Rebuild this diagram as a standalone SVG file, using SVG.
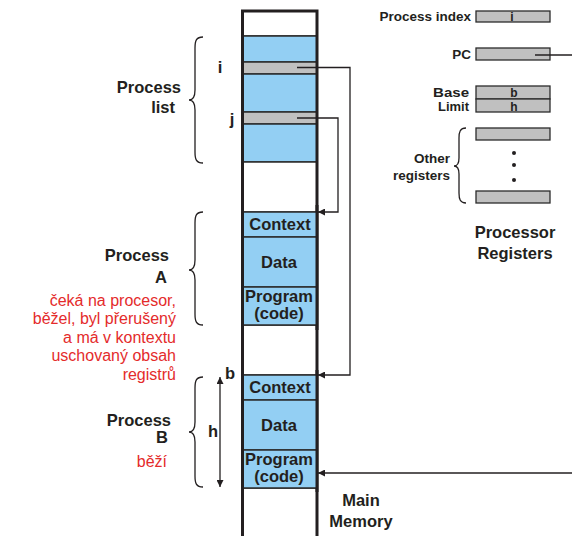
<svg xmlns="http://www.w3.org/2000/svg" width="572" height="536" viewBox="0 0 572 536">
  <defs>
    <style>
      text { font-family: "Liberation Sans", Arial, sans-serif; fill: #231f20; }
      .b { font-weight: bold; font-size: 16.5px; }
      .r { font-weight: bold; font-size: 13.5px; }
      .s { font-weight: bold; font-size: 12px; }
      .red { font-size: 16px; fill: #e42b2b; }
      .seg { fill: #93cff3; stroke: #2b2b2b; stroke-width: 1.5; }
      .emp { fill: #ffffff; stroke: #2b2b2b; stroke-width: 1.5; }
      .gry { fill: #c0c0c0; stroke: #2b2b2b; stroke-width: 1.5; }
      .reg { fill: #c0c0c0; stroke: #2b2b2b; stroke-width: 1.3; }
      .brace { fill: none; stroke: #231f20; stroke-width: 1.3; }
      .wire { fill: none; stroke: #231f20; stroke-width: 1.3; }
    </style>
    <marker id="ah" viewBox="0 0 10 10" refX="10" refY="5" markerWidth="7" markerHeight="7" orient="auto-start-reverse" markerUnits="userSpaceOnUse">
      <path d="M0,0 L10,5 L0,10 Z" fill="#231f20"/>
    </marker>
  </defs>

  <!-- main memory column -->
  <g id="memory">
    <rect class="emp" x="242.5" y="11" width="74.5" height="25"/>
    <rect class="seg" x="242.5" y="36" width="74.5" height="26"/>
    <rect class="gry" x="242.5" y="62" width="74.5" height="12"/>
    <rect class="seg" x="242.5" y="74" width="74.5" height="38"/>
    <rect class="gry" x="242.5" y="112" width="74.5" height="12"/>
    <rect class="seg" x="242.5" y="124" width="74.5" height="38"/>
    <rect class="emp" x="242.5" y="162" width="74.5" height="50"/>
    <rect class="emp" x="242.5" y="325" width="74.5" height="50"/>
    <rect class="emp" x="242.5" y="488" width="74.5" height="60"/>
    <path d="M242.5,540 V11 H317 V540" fill="none" stroke="#231f20" stroke-width="3"/>
  </g>

  <g id="processA">
    <rect class="seg" x="242.5" y="212" width="74.5" height="25"/>
    <rect class="seg" x="242.5" y="237" width="74.5" height="50"/>
    <rect class="seg" x="242.5" y="287" width="74.5" height="38"/>
    <path d="M242.5,205 V330 M317,205 V330" stroke="#231f20" stroke-width="3"/>
    <text class="b" x="280" y="230" text-anchor="middle">Context</text>
    <text class="b" x="279" y="268" text-anchor="middle">Data</text>
    <text class="b" x="279" y="302" text-anchor="middle">Program</text>
    <text class="b" x="279" y="319" text-anchor="middle">(code)</text>
  </g>

  <g id="processB">
    <rect class="seg" x="242.5" y="375" width="74.5" height="25"/>
    <rect class="seg" x="242.5" y="400" width="74.5" height="50"/>
    <rect class="seg" x="242.5" y="450" width="74.5" height="38"/>
    <path d="M242.5,370 V492 M317,370 V492" stroke="#231f20" stroke-width="3"/>
    <text class="b" x="280" y="393" text-anchor="middle">Context</text>
    <text class="b" x="279" y="431" text-anchor="middle">Data</text>
    <text class="b" x="279" y="465" text-anchor="middle">Program</text>
    <text class="b" x="279" y="482" text-anchor="middle">(code)</text>
  </g>

  <g id="memory-label">
    <text class="b" x="361" y="506" text-anchor="middle">Main</text>
    <text class="b" x="361" y="527" text-anchor="middle">Memory</text>
  </g>

  <!-- left-hand annotations -->
  <g id="process-list">
    <path class="brace" d="M203,37 C196,37 195,41 195,48 L195,90 C195,97 193,100 189,100 C193,100 195,103 195,110 L195,152 C195,159 196,163 203,163"/>
    <text class="b" x="181" y="93" text-anchor="end">Process</text>
    <text class="b" x="175" y="113" text-anchor="end">list</text>
    <text class="b" x="220" y="73" text-anchor="middle">i</text>
    <text class="b" x="232" y="125" text-anchor="middle">j</text>
  </g>

  <g id="process-a-label">
    <path class="brace" d="M203,212 C196,212 195,216 195,223 L195,260 C195,266 193,270 189,270 C193,270 195,274 195,280 L195,314 C195,321 196,325 203,325"/>
    <text class="b" x="169" y="261" text-anchor="end">Process</text>
    <text class="b" x="167" y="283" text-anchor="end">A</text>
    <text class="red" x="176" y="306" text-anchor="end">čeká na procesor,</text>
    <text class="red" x="176" y="324" text-anchor="end">běžel, byl přerušený</text>
    <text class="red" x="176" y="343" text-anchor="end">a má v kontextu</text>
    <text class="red" x="176" y="361" text-anchor="end">uschovaný obsah</text>
    <text class="red" x="176" y="380" text-anchor="end">registrů</text>
  </g>

  <g id="process-b-label">
    <path class="brace" d="M203,377 C196,377 195,381 195,388 L195,422 C195,428 193,432 189,432 C193,432 195,436 195,442 L195,476 C195,483 196,487 203,487"/>
    <text class="b" x="171" y="426" text-anchor="end">Process</text>
    <text class="b" x="168" y="443" text-anchor="end">B</text>
    <text class="red" x="167" y="467" text-anchor="end">běží</text>
    <text class="b" x="230" y="379" text-anchor="middle">b</text>
    <text class="b" x="213" y="437" text-anchor="middle">h</text>
  </g>

  <!-- processor registers -->
  <g id="registers">
    <rect class="reg" x="476" y="11" width="74" height="11"/>
    <text class="s" x="512" y="20.5" text-anchor="middle">i</text>
    <text class="r" x="471" y="21" text-anchor="end">Process index</text>

    <rect class="reg" x="476" y="48" width="74" height="12"/>
    <text class="r" x="471" y="59" text-anchor="end">PC</text>

    <rect class="reg" x="476" y="86" width="74" height="13"/>
    <rect class="reg" x="476" y="99" width="74" height="13"/>
    <text class="s" x="514" y="97" text-anchor="middle">b</text>
    <text class="s" x="514" y="110.5" text-anchor="middle">h</text>
    <text class="s" x="469" y="96.5" text-anchor="end" textLength="36" lengthAdjust="spacingAndGlyphs">Base</text>
    <text class="s" x="469" y="110.5" text-anchor="end" textLength="31" lengthAdjust="spacingAndGlyphs">Limit</text>

    <rect class="reg" x="476" y="128" width="74" height="12"/>
    <rect class="reg" x="476" y="191" width="74" height="12"/>
    <circle cx="514" cy="153" r="2" fill="#231f20"/>
    <circle cx="514" cy="165" r="2" fill="#231f20"/>
    <circle cx="514" cy="180" r="2" fill="#231f20"/>
    <path class="brace" d="M466,128 C460,128 459,132 459,138 L459,158 C459,163 457,166 454,166 C457,166 459,169 459,174 L459,193 C459,199 460,203 466,203"/>
    <text class="r" x="450" y="163" text-anchor="end">Other</text>
    <text class="r" x="450" y="180" text-anchor="end">registers</text>

    <text class="b" x="515" y="238" text-anchor="middle">Processor</text>
    <text class="b" x="515" y="259" text-anchor="middle">Registers</text>
  </g>

  <!-- connectors -->
  <g id="connectors">
    <path class="wire" d="M297,67.5 H350 V375 H318" marker-end="url(#ah)"/>
    <path class="wire" d="M297,118 H338 V212 H318" marker-end="url(#ah)"/>
    <path class="wire" d="M535,55 H572"/>
    <path class="wire" d="M572,473 H318" marker-end="url(#ah)"/>
    <path class="wire" d="M220,377 V487" marker-start="url(#ah)" marker-end="url(#ah)"/>
  </g>
</svg>
